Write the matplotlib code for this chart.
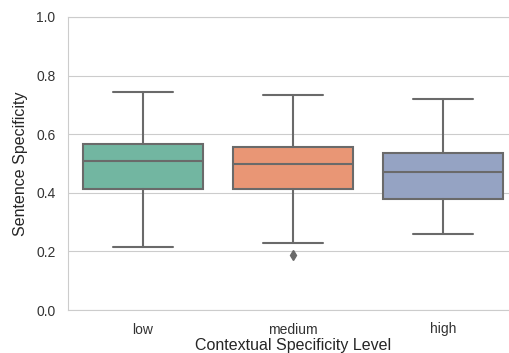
import matplotlib
matplotlib.use("Agg")
import matplotlib.pyplot as plt
import seaborn as sns

sns.set_style("whitegrid")
plt.rcParams['font.family'] = ['Liberation Sans', 'DejaVu Sans']

# values
levels = ['low', 'medium', 'high']
whislo = [0.215, 0.228, 0.260]
q1 = [0.413, 0.413, 0.378]
med = [0.509, 0.500, 0.472]
q3 = [0.568, 0.558, 0.537]
whishi = [0.744, 0.735, 0.720]
fliers = [[], [0.188], []]

stats = []
for i, name in enumerate(levels):
    stats.append(dict(label=name, whislo=whislo[i], q1=q1[i], med=med[i],
                      q3=q3[i], whishi=whishi[i], fliers=fliers[i]))

pal = [sns.desaturate(c, 0.75) for c in sns.color_palette("Set2", 3)]
gray = "#6a6a6a"

fig = plt.figure(figsize=(5.1, 3.53), dpi=100)
ax = fig.add_axes([68 / 510, 43 / 353, 450 / 510, 293 / 353])

lp = dict(color=gray, linewidth=1.5)
bp = ax.bxp(stats, positions=range(len(levels)), widths=0.8, patch_artist=True,
            boxprops=dict(edgecolor=gray, linewidth=1.5),
            medianprops=lp, whiskerprops=lp, capprops=lp,
            flierprops=dict(marker='d', markerfacecolor=gray, markeredgecolor=gray,
                            markersize=5))
for patch, c in zip(bp['boxes'], pal):
    patch.set_facecolor(c)

ax.set_xlim(-0.5, 2.5)
ax.set_ylim(0, 1.0)
ax.set_yticks([0.0, 0.2, 0.4, 0.6, 0.8, 1.0])
ax.set_xticks(range(len(levels)))
ax.set_xticklabels(levels)
ax.xaxis.grid(False)
ax.tick_params(axis='both', labelsize=10, pad=9, colors='#333333', length=0)
ax.set_xlabel('Contextual Specificity Level', fontsize=11.5, color='#262626', labelpad=1)
ax.set_ylabel('Sentence Specificity', fontsize=11.5, color='#262626', labelpad=6)

fig.savefig("out.png", dpi=100)
